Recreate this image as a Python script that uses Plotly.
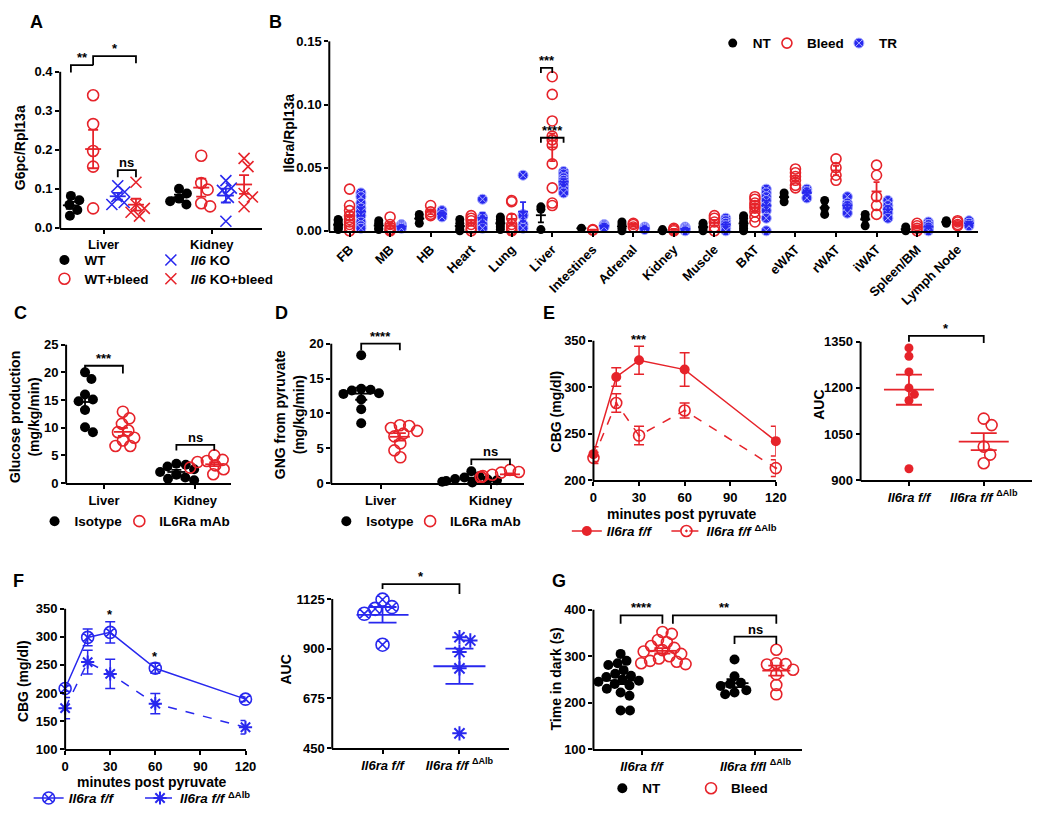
import numpy as np
import plotly.graph_objects as go

W, H = 1050, 818
RED = 'rgb(230,35,42)'
BLUE = 'rgb(40,40,238)'
BLK = 'rgb(0,0,0)'
FONT = 'Liberation Sans, Arial, sans-serif'

# ------------------------------------------------------------------ data
# A  G6pc/Rpl13a  (groups: Liver, Kidney)
A_groups = ['Liver', 'Kidney']
A_WT = [[0.082, 0.071, 0.059, 0.046, 0.031], [0.100, 0.088, 0.075, 0.068, 0.060]]
A_WT_bleed = [[0.340, 0.266, 0.197, 0.157, 0.050], [0.185, 0.115, 0.098, 0.063, 0.055]]
A_KO = [[0.108, 0.092, 0.080, 0.065, 0.060], [0.121, 0.102, 0.096, 0.078, 0.017]]
A_KO_bleed = [[0.117, 0.060, 0.050, 0.040, 0.030], [0.178, 0.157, 0.088, 0.079, 0.054]]

# B  Il6ra/Rpl13a per tissue
B_tissues = ['FB', 'MB', 'HB', 'Heart', 'Lung', 'Liver', 'Intestines', 'Adrenal', 'Kidney',
             'Muscle', 'BAT', 'eWAT', 'rWAT', 'iWAT', 'Spleen/BM', 'Lymph Node']
B_NT = [[0.009, 0.008, 0.006, 0.005, 0.004, 0.003, 0.002, 0.001],
        [0.008, 0.006, 0.004, 0.002, 0.001],
        [0.013, 0.010, 0.006],
        [0.009, 0.006, 0.003, 0.001, 0.0],
        [0.011, 0.009, 0.007, 0.005, 0.003, 0.001],
        [0.019, 0.017, 0.001],
        [0.002],
        [0.007, 0.005, 0.002, 0.0],
        [0.001, 0.0],
        [0.006, 0.004, 0.002, 0.0],
        [0.012, 0.010, 0.007, 0.004, 0.002, 0.0],
        [0.030, 0.027, 0.023],
        [0.024, 0.018, 0.013],
        [0.013, 0.010, 0.004],
        [0.003, 0.001, 0.0],
        [0.008, 0.007, 0.006]]
B_Bleed = [[0.033, 0.020, 0.016, 0.012, 0.009, 0.007, 0.005, 0.003, 0.0],
           [0.011, 0.005, 0.003, 0.001, 0.0],
           [0.020, 0.015, 0.013, 0.012],
           [0.012, 0.010, 0.008, 0.005, 0.002, 0.0],
           [0.024, 0.023, 0.010, 0.005, 0.003, 0.001, 0.0],
           [0.122, 0.108, 0.087, 0.075, 0.072, 0.068, 0.053, 0.034, 0.022, 0.020],
           [0.001, 0.0005],
           [0.006, 0.005, 0.003],
           [0.002, 0.001, 0.0],
           [0.012, 0.010, 0.007, 0.003, 0.0],
           [0.027, 0.025, 0.022, 0.020, 0.018, 0.015, 0.011, 0.007],
           [0.049, 0.046, 0.043, 0.040, 0.036, 0.034],
           [0.057, 0.050, 0.044, 0.040],
           [0.052, 0.044, 0.027, 0.020, 0.013],
           [0.006, 0.004, 0.002, 0.0],
           [0.008, 0.007, 0.005, 0.004]]
B_TR = [[0.030, 0.027, 0.022, 0.018, 0.015, 0.012, 0.007, 0.004, 0.002],
        [0.005, 0.004, 0.003, 0.002],
        [0.016, 0.013, 0.011],
        [0.025, 0.011, 0.009, 0.005, 0.002],
        [0.044, 0.013, 0.012, 0.005, 0.002],
        [0.047, 0.045, 0.042, 0.040, 0.038, 0.036, 0.033, 0.030],
        [0.005, 0.004, 0.003],
        [0.003, 0.002, 0.001],
        [0.003, 0.002, 0.001, 0.0],
        [0.010, 0.008, 0.006, 0.004, 0.002, 0.0],
        [0.033, 0.030, 0.027, 0.024, 0.020, 0.016, 0.010, 0.0],
        [0.033, 0.031, 0.026],
        [0.027, 0.022, 0.020, 0.018, 0.014],
        [0.024, 0.020, 0.017, 0.014, 0.010],
        [0.007, 0.005, 0.003, 0.001, 0.0],
        [0.008, 0.006, 0.004]]

# C  Glucose production (Liver, Kidney)
C_groups = ['Liver', 'Kidney']
C_iso = [[20.0, 18.8, 16.0, 15.1, 14.8, 13.2, 10.1, 9.2],
         [3.5, 3.3, 3.0, 2.5, 2.0, 1.5, 1.0, 0.8, 0.5]]
C_mab = [[12.9, 11.7, 10.7, 9.5, 9.2, 8.2, 7.7, 6.7, 6.7],
         [5.0, 4.2, 4.0, 3.8, 3.5, 3.2, 2.8, 2.5, 1.6]]

# D  GNG from pyruvate (Liver, Kidney)
D_groups = ['Liver', 'Kidney']
D_iso = [[18.35, 13.55, 13.4, 13.3, 12.9, 12.8, 12.0, 10.6, 8.6],
         [1.7, 1.0, 0.8, 0.6, 0.5, 0.4, 0.3, 0.2, 0.1]]
D_mab = [[8.3, 8.2, 7.9, 7.5, 7.1, 6.7, 5.7, 4.7, 3.7],
         [1.9, 1.6, 1.5, 1.3, 1.2, 1.1, 1.0, 0.9, 0.8]]

# E  pyruvate tolerance, CBG (mg/dl)
E_time = [0, 15, 30, 60, 120]
E_ff_mean = [228, 311, 329, 319, 242]
E_ff_sem = [8, 10, 15, 18, 16]
E_dalb_mean = [224, 283, 248, 275, 213]
E_dalb_sem = [6, 10, 10, 8, 9]
E_auc_ff = [1330, 1303, 1252, 1200, 1179, 1159, 937]
E_auc_dalb = [1100, 1079, 1009, 983, 955]

# F  pyruvate tolerance, CBG (mg/dl)
F_time = [0, 15, 30, 60, 120]
F_ff_mean = [208, 299, 308, 244, 189]
F_ff_sem = [5, 15, 19, 9, 4]
F_dalb_mean = [173, 255, 234, 181, 139]
F_dalb_sem = [19, 21, 26, 18, 12]
F_auc_ff = [1122, 1088, 1080, 1058, 918]
F_auc_dalb = [952, 937, 885, 811, 517]

# G  Time in dark (s)  (groups: f/f, f/fl dAlb)
G_NT = [[305, 290, 285, 281, 270, 262, 258, 255, 250, 247, 245, 240, 237, 230, 222, 215, 183, 183],
        [293, 257, 243, 240, 236, 227, 222, 218]]
G_Bleed = [[352, 348, 335, 330, 322, 318, 313, 310, 305, 300, 295, 290, 288, 285, 283],
           [314, 285, 283, 282, 271, 261, 238, 218]]

FF = '<i>Il6ra f/f</i>'
FF_D = '<i>Il6ra f/f</i> <sup>ΔAlb</sup>'
FFL_D = '<i>Il6ra f/fl</i> <sup>ΔAlb</sup>'

# ------------------------------------------------------------------ layout geometry (px)
GEO = {
    1: dict(xl=57, xr=262, yb=225, yt=66, r0=0, top=0.4, r1=0.45, xrange=[0, 10],
            yticks=[0, 0.1, 0.2, 0.3, 0.4], ytext=['0.0', '0.1', '0.2', '0.3', '0.4']),
    2: dict(xl=330, xr=988, yb=228, yt=35, r0=0, top=0.15, r1=0.15, xrange=[-0.5, 15.5],
            yticks=[0, 0.05, 0.10, 0.15], ytext=['0.00', '0.05', '0.10', '0.15']),
    3: dict(xl=63, xr=230, yb=485, yt=344, r0=0, top=25, r1=25, xrange=[0, 10],
            yticks=[0, 5, 10, 15, 20, 25], ytext=None),
    4: dict(xl=332, xr=528, yb=485, yt=343, r0=0, top=20, r1=20.4, xrange=[0, 10],
            yticks=[0, 5, 10, 15, 20], ytext=None),
    5: dict(xl=598, xr=783, yb=482, yt=340, r0=200, top=350, r1=350, xrange=[0, 120],
            yticks=[200, 250, 300, 350], ytext=None),
    6: dict(xl=869, xr=1043, yb=482, yt=341, r0=900, top=1350, r1=1380, xrange=[0, 10],
            yticks=[900, 1050, 1200, 1350], ytext=None),
    7: dict(xl=62, xr=245, yb=756, yt=613, r0=100, top=350, r1=350, xrange=[0, 120],
            yticks=[100, 150, 200, 250, 300, 350], ytext=None),
    8: dict(xl=333, xr=512, yb=755, yt=603, r0=450, top=1125, r1=1200, xrange=[0, 10],
            yticks=[450, 675, 900, 1125], ytext=None),
    9: dict(xl=598, xr=810, yb=756, yt=614, r0=100, top=400, r1=400, xrange=[0, 10],
            yticks=[100, 200, 300, 400], ytext=None),
}
for g in GEO.values():
    g['kx'] = (g['xr'] - g['xl']) / (g['xrange'][1] - g['xrange'][0])
    g['ky'] = (g['yb'] - g['yt']) / (g['top'] - g['r0'])

TICKFONT = dict(family=FONT, size=13, color='black', weight='bold')
LEGFONT = dict(family=FONT, size=13.5, color='black', weight='bold')
STARFONT = dict(family=FONT, size=13, color='black', weight='bold')


def ax_names(n):
    return ('x' if n == 1 else f'x{n}'), ('y' if n == 1 else f'y{n}')


def swarm(vals, ky, diam):
    placed = []
    offs = [0.0] * len(vals)
    order = sorted(range(len(vals)), key=lambda i: -vals[i])
    cands = [0.0]
    for m in range(1, 60):
        cands += [m * 0.5, -m * 0.5]
    for i in order:
        yp = vals[i] * ky
        for c in cands:
            if all((c - px) ** 2 + (yp - py) ** 2 >= (diam * 0.92) ** 2 for px, py in placed):
                break
        placed.append((c, yp))
        offs[i] = c
    return offs


fig = go.Figure()
shapes, annotations, legends = [], [], {}
LEG_DX = 20


def new_legend(mx, my):
    k = len(legends) + 1
    name = 'legend' if k == 1 else f'legend{k}'
    legends[name] = dict(x=(mx - LEG_DX) / W, y=1 - my / H, xanchor='left', yanchor='middle',
                         bgcolor='rgba(0,0,0,0)', borderwidth=0, font=LEGFONT,
                         orientation='v', itemclick=False, itemdoubleclick=False)
    return name


def strip(n, positions, groups, marker, name, legpos, L, cap, color, use_swarm=True, diam=10):
    g = GEO[n]
    xa, ya = ax_names(n)
    xs, ys = [], []
    for pos, vals in zip(positions, groups):
        offs = swarm(vals, g['ky'], diam) if use_swarm else [0.0] * len(vals)
        xs += [pos + o / g['kx'] for o in offs]
        ys += list(vals)
    if legpos is not None:
        kw = dict(legend=new_legend(*legpos), showlegend=True)
    else:
        kw = dict(showlegend=False)
    fig.add_trace(go.Scatter(x=xs, y=ys, mode='markers', marker=marker, name=name,
                             xaxis=xa, yaxis=ya, cliponaxis=False, hoverinfo='skip', **kw))
    for pos, vals in zip(positions, groups):
        v = np.array(vals, dtype=float)
        m = v.mean()
        s = v.std(ddof=1) / np.sqrt(len(v)) if len(v) > 1 else 0.0
        fig.add_trace(go.Scatter(
            x=[pos], y=[m], mode='markers', showlegend=False, hoverinfo='skip',
            xaxis=xa, yaxis=ya, cliponaxis=False,
            marker=dict(symbol='line-ew', size=L / 1.4, color=color, line=dict(color=color, width=1.8)),
            error_y=dict(type='data', array=[s], color=color, thickness=1.8, width=cap)))


def bracket(n, x0, x1, y, l0, l1, text, yshift=-2):
    xa, ya = ax_names(n)
    shapes.append(dict(type='path', xref=xa, yref=ya, layer='above',
                       path=f'M {x0},{l0} L {x0},{y} L {x1},{y} L {x1},{l1}',
                       line=dict(color='black', width=1.8)))
    annotations.append(dict(xref=xa, yref=ya, x=(x0 + x1) / 2, y=y, text=text, showarrow=False,
                            yanchor='bottom', yshift=yshift, font=STARFONT))


def filled(c, s):
    return dict(symbol='circle', size=s, color=c, line=dict(width=0))


def opened(sym, c, s, w=1.6):
    return dict(symbol=sym, size=s, color=c, line=dict(color=c, width=w))


# ------------------------------------------------------------------ A
A_center = [2.15, 7.5]
A_off = [-1.62, -0.52, 0.7, 1.6]
A_pos = [[c + o for c in A_center] for o in A_off]
strip(1, A_pos[0], A_WT, filled(BLK, 10), 'WT', (61, 258), 16, 5, BLK)
strip(1, A_pos[1], A_WT_bleed, opened('circle-open', RED, 11), 'WT+bleed', (61, 277), 16, 5, RED)
strip(1, A_pos[2], A_KO, opened('x-thin-open', BLUE, 11), '<i>Il6</i> KO', (169, 258), 16, 5, BLUE)
strip(1, A_pos[3], A_KO_bleed, opened('x-thin-open', RED, 11), '<i>Il6</i> KO+bleed', (169, 277), 16, 5, RED)
bracket(1, A_pos[0][0], A_pos[1][0], 0.417, 0.398, 0.417, '**')
bracket(1, A_pos[1][0], A_pos[3][0], 0.44, 0.417, 0.422, '*')
bracket(1, A_pos[2][0], A_pos[3][0], 0.148, 0.13, 0.13, 'ns')

# ------------------------------------------------------------------ B
B_idx = list(range(len(B_tissues)))
B_off = [-0.28, 0.0, 0.28]
strip(2, [i + B_off[0] for i in B_idx], B_NT, filled(BLK, 9), 'NT', (739, 37), 10, 3, BLK, use_swarm=False)
strip(2, [i + B_off[1] for i in B_idx], B_Bleed, opened('circle-open', RED, 10), 'Bleed', (794, 37), 10, 3, RED, use_swarm=False)
strip(2, [i + B_off[2] for i in B_idx], B_TR,
      dict(symbol='circle-x', size=10, color=BLUE, line=dict(color='rgb(170,175,255)', width=1)),
      'TR', (867, 37), 10, 3, BLUE, use_swarm=False)
liv = B_tissues.index('Liver')
bracket(2, liv + B_off[0], liv + B_off[1], 0.129, 0.125, 0.125, '***')
bracket(2, liv + B_off[0], liv + B_off[2], 0.0737, 0.0698, 0.0698, '****')

# ------------------------------------------------------------------ C
C_center = [2.3, 7.85]
C_pos = [[c - 1.15 for c in C_center], [c + 1.15 for c in C_center]]
strip(3, C_pos[0], C_iso, filled(BLK, 10), 'Isotype', (51, 524), 18, 5, BLK)
strip(3, C_pos[1], C_mab, opened('circle-open', RED, 11), 'IL6Ra mAb', (137, 524), 18, 5, RED)
bracket(3, C_pos[0][0], C_pos[1][0], 21.2, 20.5, 19.8, '***')
bracket(3, C_pos[0][1], C_pos[1][1], 6.9, 5.9, 5.9, 'ns')

# ------------------------------------------------------------------ D
D_center = [2.55, 8.25]
D_pos = [[c - 1.0 for c in D_center], [c + 1.0 for c in D_center]]
strip(4, D_pos[0], D_iso, filled(BLK, 10), 'Isotype', (347, 524), 20, 6, BLK)
strip(4, D_pos[1], D_mab, opened('circle-open', RED, 11), 'IL6Ra mAb', (432, 524), 20, 6, RED)
bracket(4, D_pos[0][0], D_pos[1][0], 20.0, 19.06, 19.06, '****')
bracket(4, D_pos[0][1], D_pos[1][1], 3.4, 2.6, 2.6, 'ns')

# ------------------------------------------------------------------ E (time course)
fig.add_trace(go.Scatter(
    x=E_time, y=E_dalb_mean, mode='lines+markers', name=FF_D, xaxis='x5', yaxis='y5',
    line=dict(color=RED, width=1.5, dash='dash'),
    marker=opened('circle-open-dot', RED, 11),
    error_y=dict(type='data', array=E_dalb_sem, color=RED, thickness=1.5, width=5),
    cliponaxis=False, hoverinfo='skip'))
fig.add_trace(go.Scatter(
    x=E_time, y=E_ff_mean, mode='lines+markers', name=FF, xaxis='x5', yaxis='y5',
    line=dict(color=RED, width=1.5), marker=filled(RED, 10),
    error_y=dict(type='data', array=E_ff_sem, color=RED, thickness=1.5, width=5),
    cliponaxis=False, hoverinfo='skip'))
fig.data[-1].legend = new_legend(591, 534)
fig.data[-2].legend = new_legend(692, 534)
annotations.append(dict(xref='x5', yref='y5', x=30, y=350, text='***', showarrow=False,
                        yanchor='bottom', yshift=-8, font=STARFONT))

# E AUC
strip(6, [2.82], [E_auc_ff], filled(RED, 9), 'ff', None, 50, 13, RED, diam=9)
strip(6, [7.18], [E_auc_dalb], opened('circle-open', RED, 11), 'dalb', None, 50, 13, RED, diam=11)
bracket(6, 2.82, 7.18, 1369, 1350, 1346, '*')

# ------------------------------------------------------------------ F (time course)
fig.add_trace(go.Scatter(
    x=F_time, y=F_ff_mean, mode='lines+markers', name=FF, xaxis='x7', yaxis='y7',
    line=dict(color=BLUE, width=1.5), marker=opened('circle-x-open', BLUE, 12),
    error_y=dict(type='data', array=F_ff_sem, color=BLUE, thickness=1.5, width=5),
    cliponaxis=False, hoverinfo='skip'))
fig.data[-1].legend = new_legend(45, 806)
fig.add_trace(go.Scatter(
    x=F_time, y=F_dalb_mean, mode='lines+markers', name=FF_D, xaxis='x7', yaxis='y7',
    line=dict(color=BLUE, width=1.5, dash='dash'), marker=opened('asterisk-open', BLUE, 11, 2),
    error_y=dict(type='data', array=F_dalb_sem, color=BLUE, thickness=1.5, width=5),
    cliponaxis=False, hoverinfo='skip'))
fig.data[-1].legend = new_legend(158, 806)
annotations.append(dict(xref='x7', yref='y7', x=30, y=340, text='*', showarrow=False,
                        yanchor='middle', font=STARFONT))
annotations.append(dict(xref='x7', yref='y7', x=60, y=265, text='*', showarrow=False,
                        yanchor='middle', font=STARFONT))

# F AUC
strip(8, [2.85], [F_auc_ff], opened('circle-x-open', BLUE, 13), 'ff', None, 52, 14, BLUE, diam=13)
strip(8, [7.21], [F_auc_dalb], opened('asterisk-open', BLUE, 12, 2), 'dalb', None, 52, 14, BLUE, diam=12)
bracket(8, 2.85, 7.21, 1192, 1170, 1147, '*')

# ------------------------------------------------------------------ G
G_center = [2.3, 7.75]
G_pos = [[c - 1.0 for c in G_center], [c + 1.0 for c in G_center]]
strip(9, G_pos[0], G_NT, filled(BLK, 10), 'NT', (627, 796), 28, 8, BLK)
strip(9, G_pos[1], G_Bleed, opened('circle-open', RED, 11), 'Bleed', (717, 796), 28, 8, RED)
bracket(9, G_pos[0][0], G_pos[1][0], 388, 370, 370, '****')
bracket(9, G_pos[1][0] + 0.5, G_pos[1][1], 388, 370, 370, '**')
bracket(9, G_pos[0][1], G_pos[1][1], 342, 326, 326, 'ns')

# ------------------------------------------------------------------ axes
XTICKS = {
    1: (A_center, A_groups),
    2: (B_idx, B_tissues),
    3: (C_center, C_groups),
    4: (D_center, D_groups),
    5: ([0, 30, 60, 90, 120], ['0', '30', '60', '90', '120']),
    6: ([2.82, 7.18], [FF, FF_D]),
    7: ([0, 30, 60, 90, 120], ['0', '30', '60', '90', '120']),
    8: ([2.85, 7.21], [FF, FF_D]),
    9: (G_center, [FF, FFL_D]),
}
layout_axes = {}
for n, g in GEO.items():
    xa, ya = ax_names(n)
    ytop = g['yb'] - (g['r1'] - g['r0']) * g['ky']
    tv, tt = XTICKS[n]
    layout_axes['xaxis' if n == 1 else f'xaxis{n}'] = dict(
        domain=[g['xl'] / W, g['xr'] / W], range=g['xrange'], anchor=ya,
        showline=True, linecolor='black', linewidth=2, ticks='outside', ticklen=4,
        tickwidth=2, tickcolor='black', showgrid=False, zeroline=False,
        tickvals=tv, ticktext=tt, tickfont=TICKFONT, fixedrange=True,
        tickangle=-45 if n == 2 else 0)
    layout_axes['yaxis' if n == 1 else f'yaxis{n}'] = dict(
        domain=[1 - g['yb'] / H, 1 - ytop / H], range=[g['r0'], g['r1']], anchor=xa,
        showline=False, ticks='outside', ticklen=4, tickwidth=2, tickcolor='black',
        showgrid=False, zeroline=False, tickvals=g['yticks'],
        ticktext=g['ytext'] if g['ytext'] else [str(v) for v in g['yticks']],
        tickfont=TICKFONT, fixedrange=True)
    # y axis line (ends at the top tick)
    shapes.append(dict(type='line', xref='paper', yref='paper',
                       x0=g['xl'] / W, x1=g['xl'] / W, y0=1 - (g['yb'] + 1) / H, y1=1 - g['yt'] / H,
                       line=dict(color='black', width=2)))


def lab(text, px, py, size=14, angle=0):
    annotations.append(dict(xref='paper', yref='paper', x=px / W, y=1 - py / H, text=text,
                            showarrow=False, xanchor='center', yanchor='middle', textangle=angle,
                            font=dict(family=FONT, size=size, color='black', weight='bold')))


for t, px, py in [('A', 33, 15), ('B', 275, 15), ('C', 17, 312), ('D', 282, 312),
                  ('E', 553, 312), ('F', 15, 585), ('G', 563, 585)]:
    lab(t, px, py, size=18)

lab('G6pc/Rpl13a', 17, 143, angle=-90)
lab('Il6ra/Rpl13a', 289, 128, angle=-90)
lab('Glucose production<br>(mg/kg/min)', 21, 418, angle=-90)
lab('GNG from pyruvate<br>(mg/kg/min)', 290, 415, angle=-90)
lab('CBG (mg/dl)', 560, 412, angle=-90)
lab('AUC', 826, 405, angle=-90)
lab('CBG (mg/dl)', 20, 687, angle=-90)
lab('AUC', 286, 675, angle=-90)
lab('Time in dark (s)', 560, 685, angle=-90)
lab('minutes post pyruvate', 688, 516)
lab('minutes post pyruvate', 150, 789)

fig.update_layout(
    width=W, height=H, margin=dict(l=0, r=0, t=0, b=0),
    paper_bgcolor='white', plot_bgcolor='rgba(0,0,0,0)',
    font=dict(family=FONT, color='black'),
    shapes=shapes, annotations=annotations, **layout_axes, **legends)

fig.write_html('out.html', config={'displayModeBar': False},
               post_script="document.body.style.margin='0px';document.body.style.padding='0px';"
                           "document.documentElement.style.overflow='hidden';")
